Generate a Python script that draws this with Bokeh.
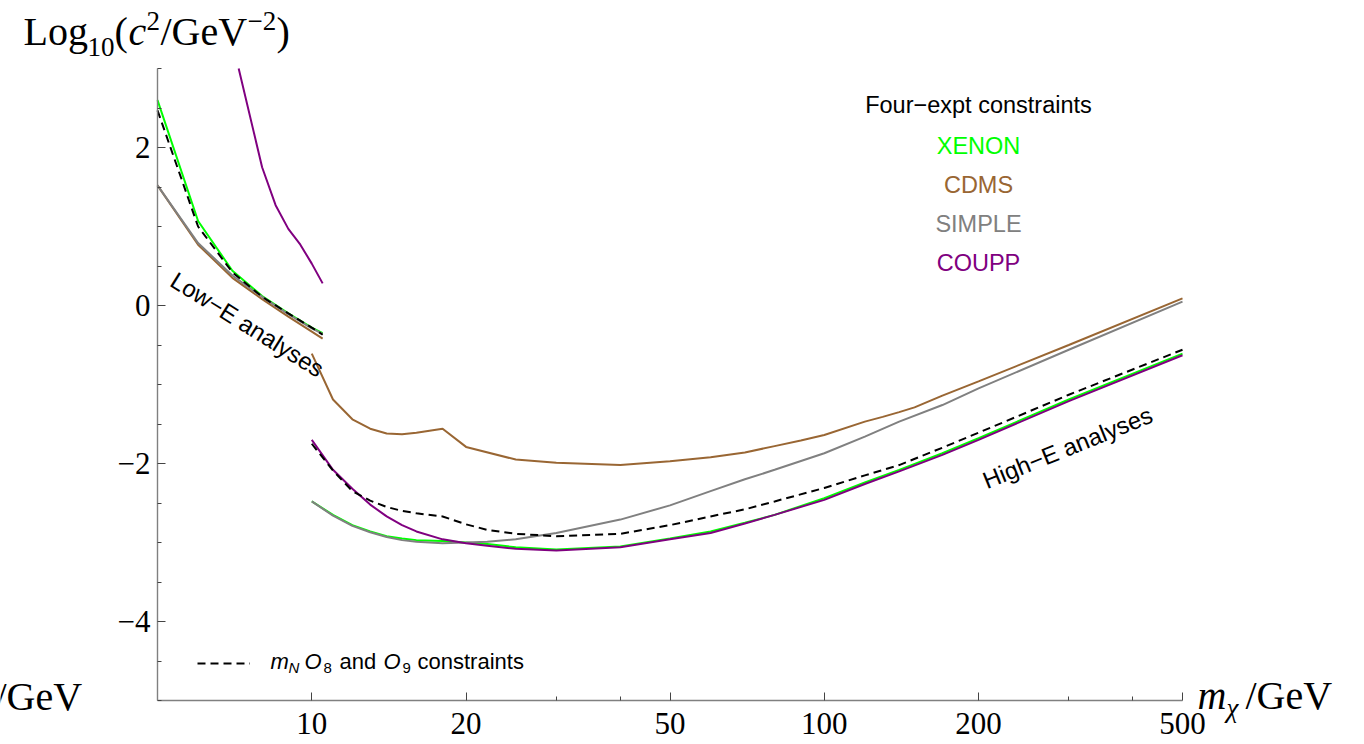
from bokeh.plotting import figure
from bokeh.models import FixedTicker, CustomJSTickFormatter, Label, Legend, LegendItem
from bokeh.embed import file_html
from bokeh.resources import INLINE

# ---------------- data ----------------
# Low-E analyses (masses in GeV, values are Log10(c^2 / GeV^-2))
mass_low = [5, 6, 7, 8, 9, 10, 10.5]
xenon_low = [2.60, 1.07, 0.44, 0.12, -0.10, -0.28, -0.35]
cdms_low = [1.52, 0.77, 0.35, 0.08, -0.14, -0.33, -0.42]
simple_low = [1.52, 0.79, 0.38, 0.11, -0.11, -0.29, -0.36]
o89_low = [2.47, 1.00, 0.42, 0.11, -0.10, -0.28, -0.37]
mass_coupp_low = [7.2, 8, 8.5, 9, 9.5, 10, 10.5]
coupp_low = [3.00, 1.75, 1.27, 0.97, 0.77, 0.53, 0.28]

# High-E analyses
mass_high = [10, 11, 12, 13, 14, 15, 16, 18, 20, 22, 25, 30, 40, 50,
             60, 70, 80, 100, 120, 140, 170, 200, 300, 500]
xenon_high = [-2.48, -2.65, -2.78, -2.86, -2.92, -2.95, -2.97, -2.98, -3.00, -3.02,
              -3.06, -3.09, -3.05, -2.95, -2.86, -2.75, -2.65, -2.44, -2.24, -2.08,
              -1.87, -1.68, -1.19, -0.61]
simple_high = [-2.48, -2.66, -2.79, -2.87, -2.93, -2.97, -2.99, -3.01, -3.00, -2.99,
               -2.96, -2.88, -2.71, -2.53, -2.35, -2.20, -2.08, -1.87, -1.66, -1.47,
               -1.26, -1.05, -0.56, 0.05]
coupp_high = [-1.70, -2.08, -2.32, -2.52, -2.67, -2.78, -2.86, -2.96, -3.01, -3.04,
              -3.08, -3.10, -3.06, -2.96, -2.88, -2.76, -2.65, -2.46, -2.26, -2.10,
              -1.89, -1.70, -1.21, -0.63]
o89_high = [-1.75, -2.09, -2.35, -2.47, -2.55, -2.60, -2.63, -2.67, -2.77, -2.84,
            -2.89, -2.92, -2.89, -2.78, -2.67, -2.58, -2.48, -2.31, -2.15, -2.02,
            -1.80, -1.61, -1.13, -0.56]
cdms_mass_high = [10, 11, 12, 13, 14, 15, 16, 18, 20, 25, 30, 40, 50, 60, 70, 80,
                  90, 100, 120, 130, 140, 150, 170, 200, 300, 500]
cdms_high = [-0.61, -1.19, -1.44, -1.56, -1.62, -1.63, -1.61, -1.56, -1.79, -1.95,
             -1.99, -2.02, -1.97, -1.92, -1.86, -1.78, -1.71, -1.64, -1.47, -1.41,
             -1.35, -1.29, -1.14, -0.96, -0.50, 0.09]

x_major_ticks = [10, 20, 50, 100, 200, 500]
x_minor_ticks = [30, 40, 300, 400]
y_major_ticks = [-4, -2, 0, 2]
y_minor_ticks = [-5, -4.5, -3.5, -3, -2.5, -1.5, -1, -0.5, 0.5, 1, 1.5, 2.5, 3]
x_bounds = (5, 500)
y_bounds = (-5, 3)

experiments = ["XENON", "CDMS", "SIMPLE", "COUPP"]

# ---------------- styles ----------------
GREEN = "#00FF00"
BROWN = "#996633"
GRAY = "#808080"
PURPLE = "#800080"
exp_colors = [GREEN, BROWN, GRAY, PURPLE]
SERIF = "Liberation Serif"
SANS = "Liberation Sans"

W, H = 1364, 744
# plot box in page pixels: x 5..500 -> 157..1182, y 3..-5 -> 68..700
PX0, PX1, PY0, PY1 = 157.0, 1182.0, 68.0, 700.0


def X(px):
    return x_bounds[0] * (x_bounds[1] / x_bounds[0]) ** ((px - PX0) / (PX1 - PX0))


def Y(py):
    return y_bounds[1] - (y_bounds[1] - y_bounds[0]) * (py - PY0) / (PY1 - PY0)


p = figure(width=W, height=H, x_axis_type="log",
           x_range=(X(0), X(W)), y_range=(Y(H), Y(0)),
           output_backend="svg", toolbar_location=None,
           min_border=0, min_border_left=0, min_border_right=0,
           min_border_top=0, min_border_bottom=0)
p.xgrid.visible = False
p.ygrid.visible = False
p.outline_line_color = None
p.background_fill_color = "white"
p.border_fill_color = "white"

# axes drawn at the plot box edges
for ax in (p.xaxis[0], p.yaxis[0]):
    ax.axis_line_color = "#808080"
    ax.axis_line_width = 1.4
    ax.major_tick_line_color = "#444444"
    ax.minor_tick_line_color = "#444444"
    ax.major_tick_in = 8
    ax.major_tick_out = 0
    ax.minor_tick_in = 4
    ax.minor_tick_out = 0
    ax.major_label_text_font = SERIF
    ax.major_label_text_font_size = "31px"
    ax.major_label_text_color = "black"

p.xaxis.fixed_location = y_bounds[0]
p.xaxis.bounds = x_bounds
p.xaxis.ticker = FixedTicker(ticks=x_major_ticks, minor_ticks=x_minor_ticks)
p.xaxis.formatter = CustomJSTickFormatter(code="return String(tick);")
p.xaxis.major_label_standoff = 12

p.yaxis.fixed_location = x_bounds[0]
p.yaxis.bounds = y_bounds
p.yaxis.ticker = FixedTicker(ticks=y_major_ticks, minor_ticks=y_minor_ticks)
p.yaxis.formatter = CustomJSTickFormatter(
    code="return tick < 0 ? '\\u2212' + Math.abs(tick) : String(tick);")
p.yaxis.major_label_standoff = 7

# lines
lw = 2
p.line(mass_low, xenon_low, line_color=GREEN, line_width=lw)
p.line(mass_high, xenon_high, line_color=GREEN, line_width=lw)
p.line(mass_low, cdms_low, line_color=BROWN, line_width=lw)
p.line(cdms_mass_high, cdms_high, line_color=BROWN, line_width=lw)
p.line(mass_low, simple_low, line_color=GRAY, line_width=lw)
p.line(mass_high, simple_high, line_color=GRAY, line_width=lw)
p.line(mass_coupp_low, coupp_low, line_color=PURPLE, line_width=lw)
p.line(mass_high, coupp_high, line_color=PURPLE, line_width=lw)
p.line(mass_low, o89_low, line_color="black", line_width=lw, line_dash="8 5")
r_dash = p.line(mass_high, o89_high, line_color="black", line_width=lw, line_dash="8 5")

# legend key for the dashed line (its text is drawn separately below)
leg = Legend(items=[LegendItem(label=" ", renderers=[r_dash])], location=(197, 75),
             padding=0, margin=0, spacing=0, glyph_width=53, glyph_height=12,
             label_height=12, label_width=1, label_standoff=0,
             label_text_font_size="1px", border_line_color=None,
             background_fill_alpha=0)
p.add_layout(leg)


# ---------------- text annotations (positions in page pixels, vertical centres) ----------------
def lab(px, py, text, size, font=SERIF, style="normal", color="black",
        align="left", angle=0.0):
    p.add_layout(Label(x=X(px), y=Y(py), text=text, text_font=font,
                       text_font_size=f"{size}px", text_font_style=style,
                       text_color=color, text_align=align, text_baseline="middle",
                       angle=angle))


# y-axis title: Log10(c^2/GeV^-2)
lab(23, 31, "Log", 40)
lab(87, 46, "10", 27)
lab(114, 31, "(", 40)
lab(128, 31, "c", 40, style="italic")
lab(146, 20, "2", 27)
lab(160, 31, "/GeV", 40)
lab(247, 20, "\u22122", 27)
lab(276, 31, ")", 40)

# x-axis title: m_chi/GeV
lab(1197, 695, "m", 40, style="italic")
lab(1226, 707, "\u03c7", 27, style="italic")
lab(1245, 695, "/GeV", 40)

# fragment of the neighbouring panel's axis title (cut by the left edge)
lab(-5, 696, "/GeV", 40)

# experiment legend
lab(978, 104, "Four\u2212expt constraints", 23.5, font=SANS, align="center")
for i, (name, col) in enumerate(zip(experiments, exp_colors)):
    lab(978, 145 + 39.3 * i, name, 23.5, font=SANS, color=col, align="center")

# dashed-line legend text: m_N O_8 and O_9 constraints
lab(270, 661, "m", 22, font=SANS, style="italic")
lab(288, 667, "N", 15, font=SANS, style="italic")
lab(304, 661, "O", 22, font=SANS, style="italic")
lab(323, 667, "8", 15, font=SANS)
lab(339, 661, "and", 22, font=SANS)
lab(383, 661, "O", 22, font=SANS, style="italic")
lab(402, 667, "9", 15, font=SANS)
lab(417, 661, "constraints", 22, font=SANS)

# region annotations
lab(247, 324, "Low\u2212E analyses", 24, font=SANS, align="center", angle=-0.559)
lab(1067, 447, "High\u2212E analyses", 24, font=SANS, align="center", angle=0.384)

open("out.html", "w").write(file_html(p, INLINE))
